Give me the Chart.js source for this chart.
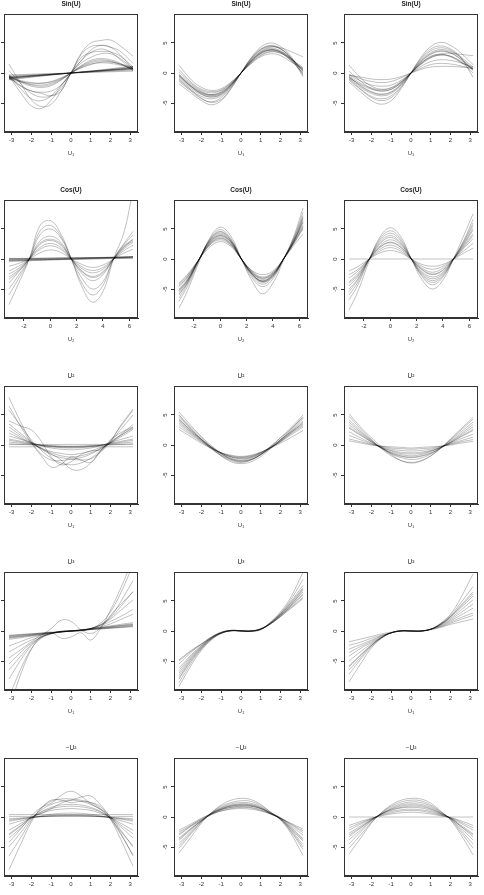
<!DOCTYPE html>
<html>
<head>
<meta charset="utf-8">
<script src="https://cdn.jsdelivr.net/npm/chart.js@4"></script>
<style>
  body { margin: 0; background: #fff; }
  #page { position: relative; width: 484px; height: 895px; overflow: hidden; }
  canvas { position: absolute; }
</style>
</head>
<body>
<div id="page"></div>
<script>
// x grids the curves were read at
const xU = [-3.14, -2.5, -2, -1.5, -1, -0.5, 0, 0.5, 1, 1.5, 2, 2.5, 3.14];
const xCos = [-3.14, -2.5, -1.6, -0.8, 0, 0.8, 1.6, 2.4, 3.2, 4, 4.8, 5.6, 6.28];

const xTicksU = [-3, -2, -1, 0, 1, 2, 3];
const xTicksCos = [-2, 0, 2, 4, 6];
const yTicks = [-5, 0, 5];

const panelTitles = ["Sin(U)", "Cos(U)", "U\u00B2", "U\u00B3", "\u2212U\u00B2"];
const axisLabels = ["U\u2081", "U\u2082", "U\u2081", "U\u2081", "U\u2081"];

// ---- Sin(U) ----
const sinLeft = [
  [-0.7,-0.55,-0.45,-0.34,-0.22,-0.11,0,0.11,0.22,0.34,0.45,0.55,0.7],
  [-0.9,-0.7,-0.56,-0.42,-0.28,-0.14,0,0.14,0.28,0.42,0.56,0.7,0.9],
  [-0.6,-0.5,-0.4,-0.3,-0.2,-0.1,0,0.1,0.2,0.3,0.4,0.5,0.6],
  [-0.8,-0.65,-0.5,-0.38,-0.25,-0.13,0,0.12,0.25,0.37,0.5,0.62,0.78],
  [-1.0,-0.8,-0.63,-0.47,-0.32,-0.16,0,0.16,0.32,0.47,0.63,0.8,1.0],
  [-0.3,-0.25,-0.2,-0.15,-0.1,-0.05,0,0.05,0.1,0.15,0.2,0.25,0.3],
  [-1.1,-0.9,-0.7,-0.52,-0.35,-0.18,0,0.18,0.35,0.52,0.7,0.9,1.1],
  [-0.75,-0.6,-0.48,-0.36,-0.24,-0.12,0,0.12,0.24,0.36,0.48,0.6,0.75],
  [-0.85,-0.68,-0.54,-0.4,-0.27,-0.13,0,0.13,0.27,0.4,0.54,0.68,0.85],
  [-0.5,-0.4,-0.32,-0.24,-0.16,-0.08,0,0.08,0.16,0.24,0.32,0.4,0.5],
  [-0.6,-1.4,-1.9,-2.0,-1.7,-1.0,0,1.0,1.7,2.0,1.9,1.4,0.6],
  [-0.9,-1.3,-1.6,-1.7,-1.5,-0.9,0,0.9,1.5,1.7,1.6,1.3,0.8],
  [-0.4,-1.6,-2.2,-2.4,-2.1,-1.2,0,1.2,2.1,2.4,2.2,1.6,0.4],
  [-1.1,-1.5,-1.7,-1.7,-1.4,-0.8,0,0.8,1.4,1.8,1.8,1.5,1.0],
  [-0.7,-1.5,-2.0,-2.2,-1.9,-1.1,0,1.1,1.9,2.2,2.0,1.5,0.7],
  [-0.3,-2.8,-4.3,-4.6,-3.8,-2.0,0,2.0,3.8,4.6,4.3,3.0,0.6],
  [1.5,-2.0,-4.5,-5.6,-5.2,-3.0,0,3.2,5.0,5.4,5.5,4.5,2.8],
  [-0.5,-3.5,-5.5,-5.9,-4.5,-2.2,0,2.0,3.4,4.0,3.5,2.2,0.4],
  [-0.8,-2.3,-3.0,-3.2,-3.0,-2.0,0,3.0,4.4,4.6,4.3,3.6,1.6],
  [0.4,-1.9,-3.4,-4.0,-3.8,-2.6,0,2.5,3.4,3.6,3.5,2.8,1.0],
  [-0.6,-2.2,-3.0,-3.4,-3.8,-3.0,0,1.6,2.6,3.2,3.2,2.4,0.7]
];
const sinMid = [
  [-0.4,-2.2,-3.2,-3.6,-3.1,-1.8,0,1.8,3.2,3.8,3.5,2.4,0.5],
  [0.2,-1.8,-2.9,-3.3,-2.9,-1.7,0,1.7,3.0,3.6,3.3,2.2,0.4],
  [-1.2,-2.9,-3.9,-4.3,-3.8,-2.2,0,2.2,3.8,4.4,4.0,2.7,0.2],
  [-0.8,-2.6,-3.6,-4.0,-3.5,-2.0,0,2.0,3.5,4.1,3.7,2.5,0.6],
  [1.3,-1.2,-2.4,-2.9,-2.6,-1.5,0,1.5,2.7,3.2,2.9,1.9,0.8],
  [-1.8,-3.4,-4.6,-5.3,-4.6,-2.6,0,2.5,4.3,5.0,4.4,2.9,-0.4],
  [-0.5,-2.3,-3.5,-4.0,-3.6,-2.1,0,2.1,3.6,4.3,4.2,3.6,2.7],
  [0.6,-1.6,-2.7,-3.1,-2.8,-1.6,0,1.6,2.9,3.5,3.3,2.4,0.9],
  [-1.0,-2.9,-4.2,-4.9,-4.4,-2.5,0,2.4,4.0,4.6,4.1,2.6,-0.2],
  [-0.2,-2.0,-3.1,-3.6,-3.2,-1.9,0,1.9,3.3,3.9,3.6,2.5,0.6],
  [-0.6,-2.4,-3.4,-3.8,-3.4,-2.0,0,1.9,3.3,3.8,3.4,2.1,0.0],
  [-1.4,-3.1,-4.3,-4.8,-4.1,-2.3,0,2.3,3.9,4.5,4.0,2.6,-0.6],
  [-0.3,-2.3,-3.3,-3.7,-3.3,-1.9,0,1.9,3.4,3.9,3.5,2.3,0.3]
];
const sinRight = [
  [-0.5,-1.8,-2.5,-2.8,-2.5,-1.5,0,1.5,2.6,3.0,2.8,2.0,0.6],
  [-0.2,-1.0,-1.4,-1.6,-1.4,-0.8,0,0.8,1.4,1.6,1.5,1.2,0.7],
  [-1.0,-2.8,-3.9,-4.3,-3.8,-2.2,0,2.2,3.7,4.2,3.8,2.6,0.5],
  [1.3,-1.0,-2.2,-2.7,-2.4,-1.4,0,1.4,2.5,3.0,2.7,1.8,0.8],
  [-1.5,-3.3,-4.6,-5.2,-4.6,-2.6,0,2.6,4.4,5.1,4.6,3.4,1.4],
  [-0.7,-2.2,-3.1,-3.5,-3.1,-1.8,0,1.8,3.1,3.6,3.3,2.3,0.4],
  [-0.3,-1.4,-2.0,-2.2,-2.0,-1.2,0,1.1,1.9,2.2,2.1,1.7,1.0],
  [-0.9,-2.5,-3.4,-3.8,-3.4,-2.0,0,2.0,3.4,3.9,3.6,2.7,1.0],
  [0.3,-1.5,-2.6,-3.0,-2.7,-1.6,0,1.6,2.8,3.2,3.3,3.1,2.9],
  [-0.8,-2.0,-2.7,-3.0,-2.7,-1.6,0,1.6,2.7,3.1,2.8,1.9,0.0],
  [-1.2,-2.9,-4.1,-4.6,-4.1,-2.4,0,2.4,4.0,4.5,4.0,2.7,-0.7],
  [-0.4,-0.7,-1.0,-1.1,-1.0,-0.6,0,0.6,1.0,1.1,1.1,1.0,0.8],
  [-0.6,-2.3,-3.2,-3.6,-3.2,-1.9,0,1.9,3.2,3.7,3.4,2.4,0.7]
];

// ---- Cos(U) ----
const cosLeft = [
  [-0.2,-0.18,-0.15,-0.12,-0.09,-0.06,-0.03,0,0.03,0.06,0.09,0.12,0.15],
  [0.1,0.1,0.12,0.14,0.16,0.18,0.2,0.22,0.24,0.26,0.28,0.3,0.32],
  [-0.4,-0.36,-0.3,-0.24,-0.18,-0.12,-0.06,0,0.06,0.12,0.18,0.24,0.3],
  [0.0,0.02,0.05,0.08,0.11,0.14,0.17,0.2,0.23,0.26,0.3,0.34,0.38],
  [-0.3,-0.28,-0.22,-0.16,-0.1,-0.04,0.02,0.08,0.14,0.2,0.26,0.32,0.4],
  [-0.1,-0.1,-0.08,-0.06,-0.04,-0.02,0,0.02,0.04,0.06,0.08,0.1,0.12],
  [-0.2,-0.17,-0.12,-0.07,-0.02,0.03,0.08,0.13,0.18,0.23,0.28,0.33,0.38],
  [0.05,0.06,0.08,0.1,0.12,0.14,0.16,0.18,0.2,0.22,0.24,0.26,0.28],
  [-2.0,-1.3,0,1.6,2.2,1.6,0,-1.3,-1.9,-1.4,0,1.4,2.3],
  [-3.0,-2.0,0,2.4,3.1,2.3,0,-2.0,-2.9,-2.1,0,2.0,3.0],
  [-5.0,-3.0,0,4.0,5.0,3.5,0,-3.2,-5.0,-3.8,0,2.4,4.0],
  [-7.6,-4.5,0,5.5,6.4,4.2,0,-4.6,-7.2,-5.4,0,4.5,11.5],
  [-1.2,-0.8,0,1.0,1.5,1.1,0,-0.9,-1.4,-1.0,0,1.0,1.6],
  [-4.0,-2.4,0,3.0,3.8,2.8,0,-2.4,-3.6,-2.6,0,1.9,3.4],
  [-6.0,-3.6,0,4.6,5.6,3.8,0,-4.0,-6.0,-4.4,0,2.6,4.6],
  [-2.5,-1.7,0,1.9,2.6,1.9,0,-1.6,-2.3,-1.7,0,1.7,2.8],
  [-3.4,-2.2,0,2.6,3.3,2.5,0,-2.1,-3.1,-2.3,0,2.2,3.2]
];
const cosMid = [
  [-5.0,-3.4,0,2.6,3.7,2.6,0,-2.2,-3.4,-2.5,0,3.0,6.0],
  [-4.2,-2.8,0,2.3,3.2,2.3,0,-2.0,-3.0,-2.2,0,2.6,5.0],
  [-6.5,-4.2,0,3.2,4.6,3.2,0,-2.8,-4.2,-3.0,0,3.5,7.2],
  [-5.5,-3.7,0,2.9,4.1,2.9,0,-2.5,-3.7,-2.7,0,3.2,6.4],
  [-4.0,-2.6,0,2.0,2.9,2.1,0,-1.9,-2.6,-2.0,0,2.3,4.2],
  [-8.2,-5.3,-0.4,3.5,5.3,3.8,0,-3.6,-5.8,-4.0,-0.2,3.9,8.5],
  [-4.6,-3.1,0,2.5,3.5,2.5,0,-2.3,-3.2,-2.3,0,2.7,5.4],
  [-5.8,-3.9,0,3.0,4.3,3.0,0,-2.6,-3.9,-2.8,0,3.3,6.9],
  [-6.0,-4.0,0,3.1,4.5,3.1,0,-2.5,-3.7,-2.6,0,3.0,5.6],
  [-4.4,-3.0,0,2.7,3.9,2.8,0,-2.4,-3.8,-2.9,0,2.8,5.2],
  [-5.2,-3.5,0,2.4,3.4,2.4,0,-2.1,-3.2,-2.4,0,2.9,6.8],
  [-7.0,-4.6,-0.2,3.3,4.9,3.4,0,-3.1,-4.6,-3.3,0,3.6,7.8],
  [-5.3,-3.6,0,2.8,3.9,2.8,0,-2.4,-3.6,-2.6,0,3.1,6.2]
];
const cosRight = [
  [0,0,0,0,0,0,0,0,0,0,0,0,0],
  [-4.0,-2.8,0,2.0,2.8,2.0,0,-1.8,-2.6,-1.9,0,2.2,4.2],
  [-2.0,-1.3,0,1.0,1.4,1.0,0,-0.9,-1.2,-0.9,0,1.0,1.8],
  [-6.0,-4.0,0,3.0,4.3,3.0,0,-2.7,-3.9,-2.8,0,3.0,6.0],
  [-8.5,-5.6,-0.3,3.6,5.2,3.7,0,-3.4,-5.0,-3.5,0,4.0,7.5],
  [-3.2,-2.1,0,1.6,2.3,1.6,0,-1.5,-2.2,-1.5,0,1.8,3.4],
  [-5.0,-3.4,0,2.5,3.6,2.5,0,-2.3,-3.3,-2.4,0,2.6,5.1],
  [-4.5,-3.0,0,2.2,3.2,2.3,0,-2.1,-3.0,-2.2,0,2.4,4.8],
  [-6.8,-4.5,0,3.3,4.7,3.3,0,-2.9,-4.3,-3.0,0,3.2,6.6],
  [-2.6,-1.8,0,1.3,1.9,1.3,0,-1.2,-1.7,-1.2,0,1.4,2.6],
  [-5.4,-3.6,0,2.7,3.9,2.7,0,-2.5,-3.6,-2.6,0,2.8,5.6],
  [-3.8,-2.5,0,1.9,2.7,1.9,0,-1.7,-2.5,-1.8,0,2.0,3.9]
];

// ---- U^2 ----
const sqLeft = [
  [0.5,0.3,0.15,0,-0.1,-0.2,-0.25,-0.2,-0.1,0,0.15,0.3,0.5],
  [-0.3,-0.3,-0.3,-0.3,-0.3,-0.3,-0.3,-0.3,-0.3,-0.3,-0.3,-0.3,-0.3],
  [0.2,0.1,0.0,-0.1,-0.15,-0.2,-0.2,-0.2,-0.15,-0.1,0,0.1,0.2],
  [1.0,0.6,0.3,-0.05,-0.3,-0.45,-0.5,-0.45,-0.3,-0.05,0.3,0.6,1.0],
  [1.5,0.9,0.4,-0.1,-0.5,-0.7,-0.8,-0.7,-0.5,-0.1,0.4,0.9,1.5],
  [0.1,0.1,0.1,0.1,0.1,0.1,0.1,0.1,0.1,0.1,0.1,0.1,0.1],
  [0.8,0.45,0.2,-0.05,-0.2,-0.35,-0.4,-0.35,-0.2,-0.05,0.2,0.45,0.8],
  [2.5,1.2,0.3,-0.5,-1.1,-1.4,-1.6,-1.4,-1.0,-0.4,0.3,1.3,2.6],
  [3.5,1.8,0.5,-0.7,-1.6,-2.1,-2.3,-2.1,-1.5,-0.6,0.4,1.7,3.4],
  [5.8,3.0,0.8,-0.9,-2.2,-3.0,-3.3,-3.0,-2.2,-0.9,0.8,3.0,5.8],
  [7.9,3.5,0.5,-1.5,-2.5,-2.6,-2.4,-2.5,-2.3,-1.2,0.5,2.5,5.0],
  [4.0,3.1,2.5,0.6,-2.0,-3.3,-2.8,-1.6,-1.0,-0.8,0.6,3.2,6.0],
  [6.5,2.8,0.3,-1.8,-3.7,-3.2,-2.0,-2.5,-2.9,-1.0,0.8,2.0,3.0],
  [2.0,1.0,0.2,-0.6,-1.5,-2.5,-4.0,-4.1,-3.0,-1.0,0.5,1.6,2.8],
  [3.0,1.5,0.4,-0.6,-1.3,-1.8,-2.0,-1.8,-1.3,-0.6,0.4,1.5,3.0]
];
const sqMid = [
  [4.0,2.1,0.8,-0.4,-1.3,-1.9,-2.1,-1.9,-1.3,-0.4,0.6,1.9,3.8],
  [5.5,3.1,1.4,-0.1,-1.4,-2.4,-2.8,-2.5,-1.6,-0.3,1.2,2.8,5.0],
  [2.6,1.3,0.3,-0.6,-1.3,-1.7,-1.9,-1.7,-1.2,-0.5,0.3,1.2,2.4],
  [4.6,2.5,1.0,-0.3,-1.5,-2.3,-2.6,-2.4,-1.6,-0.5,0.8,2.3,4.4],
  [3.4,1.8,0.6,-0.5,-1.4,-2.0,-2.3,-2.1,-1.4,-0.5,0.6,1.8,3.2],
  [5.0,2.8,1.2,-0.4,-1.8,-2.8,-3.1,-2.8,-1.9,-0.6,0.9,2.5,4.6],
  [3.0,1.6,0.5,-0.5,-1.3,-1.8,-2.0,-1.8,-1.2,-0.4,0.5,1.6,3.0],
  [4.3,2.3,0.9,-0.3,-1.3,-2.0,-2.2,-2.0,-1.3,-0.3,0.9,2.2,4.0],
  [3.7,2.0,0.7,-0.6,-1.7,-2.4,-2.7,-2.4,-1.6,-0.5,0.7,2.0,3.4],
  [4.9,2.6,0.9,-0.6,-1.8,-2.6,-2.9,-2.5,-1.6,-0.2,1.2,2.6,4.7],
  [4.2,2.3,0.9,-0.4,-1.5,-2.2,-2.5,-2.2,-1.5,-0.4,0.8,2.1,3.6]
];
const sqRight = [
  [5.2,2.8,1.2,-0.3,-1.6,-2.6,-3.0,-2.7,-1.8,-0.5,1.0,2.6,4.6],
  [1.0,0.5,0.1,-0.2,-0.5,-0.6,-0.7,-0.6,-0.5,-0.2,0.1,0.5,0.9],
  [3.4,1.8,0.6,-0.5,-1.3,-1.8,-2.0,-1.8,-1.3,-0.5,0.5,1.6,3.0],
  [2.2,1.1,0.3,-0.4,-0.9,-1.2,-1.3,-1.2,-0.9,-0.4,0.3,1.0,1.8],
  [4.2,2.2,0.8,-0.5,-1.5,-2.1,-2.4,-2.2,-1.5,-0.5,0.8,2.1,3.8],
  [1.6,0.8,0.2,-0.3,-0.7,-0.9,-1.0,-0.9,-0.7,-0.3,0.2,0.7,1.3],
  [2.8,1.5,0.5,-0.5,-1.2,-1.6,-1.8,-1.6,-1.1,-0.4,0.4,1.4,2.6],
  [4.8,2.5,0.9,-0.6,-1.8,-2.6,-2.9,-2.6,-1.8,-0.6,0.9,2.4,4.3],
  [3.0,1.6,0.5,-0.4,-1.0,-1.4,-1.5,-1.4,-1.0,-0.4,0.4,1.3,2.4],
  [0.7,0.3,0,-0.2,-0.3,-0.4,-0.5,-0.4,-0.3,-0.2,0,0.3,0.6],
  [3.8,2.0,0.7,-0.5,-1.4,-1.9,-2.1,-1.9,-1.4,-0.5,0.6,1.8,3.4]
];

// ---- U^3 ----
const cubeLeft = [
  [-0.9,-0.7,-0.55,-0.4,-0.28,-0.14,0,0.14,0.28,0.42,0.56,0.7,0.9],
  [-1.2,-0.95,-0.75,-0.55,-0.37,-0.18,0,0.18,0.37,0.55,0.75,0.95,1.2],
  [-0.7,-0.55,-0.45,-0.33,-0.22,-0.11,0,0.11,0.22,0.33,0.45,0.55,0.7],
  [-1.0,-0.8,-0.63,-0.47,-0.31,-0.16,0,0.16,0.31,0.47,0.63,0.8,1.0],
  [-1.4,-1.1,-0.85,-0.62,-0.41,-0.2,0,0.2,0.41,0.62,0.85,1.1,1.4],
  [-1.1,-0.88,-0.7,-0.5,-0.34,-0.17,0,0.17,0.34,0.5,0.7,0.88,1.1],
  [-0.8,-0.62,-0.5,-0.36,-0.25,-0.12,0,0.12,0.25,0.36,0.5,0.62,0.8],
  [-3.5,-2.3,-1.5,-0.9,-0.4,-0.1,0,0.1,0.4,0.9,1.6,2.4,3.6],
  [-5.5,-3.4,-2.0,-1.0,-0.4,-0.1,0,0.1,0.4,1.0,2.0,3.4,5.2],
  [-8.0,-4.6,-2.4,-1.1,-0.4,-0.1,0,0.1,0.4,1.1,2.4,4.8,8.4],
  [-11,-6.0,-2.9,-1.2,-0.5,0,0,0,0.4,1.3,3.2,6.2,11],
  [-13,-6.8,-3.0,-0.8,0.4,1.8,1.6,0.2,-0.4,0.6,3.5,7.0,12],
  [-4.5,-3.0,-1.8,-0.6,-0.2,-1.2,-1.0,-0.3,-1.5,0.4,2.6,4.4,6.5],
  [-2.5,-1.7,-1.1,-0.7,-0.3,-0.1,0,0.1,0.3,0.7,1.2,1.9,2.8],
  [-6.5,-4.0,-2.2,-1.0,-0.4,-0.1,0,0.1,0.4,1.0,2.2,4.0,6.6]
];
const cubeMid = [
  [-7.0,-4.3,-2.6,-1.2,-0.3,0.05,0.0,-0.05,0.3,1.3,2.7,4.3,6.5],
  [-5.5,-3.5,-2.2,-1.0,-0.2,0.1,0.05,0.0,0.3,1.2,2.4,3.8,5.6],
  [-9.2,-5.6,-3.2,-1.5,-0.4,0.05,0.0,-0.05,0.3,1.5,3.2,5.5,9.8],
  [-8.0,-4.9,-2.9,-1.3,-0.3,0.1,0.0,-0.05,0.3,1.4,2.9,4.8,7.6],
  [-6.2,-3.9,-2.4,-1.1,-0.3,0.05,0.0,0.0,0.3,1.3,2.6,4.0,6.0],
  [-4.8,-3.2,-2.1,-1.0,-0.3,0.05,0.05,0.05,0.3,1.2,2.5,4.2,6.8],
  [-8.6,-5.2,-3.0,-1.4,-0.4,0.05,0.0,-0.05,0.2,1.4,3.0,5.1,8.6],
  [-7.4,-4.5,-2.7,-1.2,-0.3,0.1,0.05,0.0,0.4,1.4,2.8,4.5,7.0],
  [-6.6,-4.1,-2.5,-1.1,-0.2,0.1,0.05,0.0,0.3,1.2,2.6,4.1,6.2],
  [-5.0,-3.3,-2.2,-1.2,-0.4,0.0,0.0,0.0,0.4,1.2,2.4,3.7,5.4],
  [-7.8,-4.7,-2.8,-1.3,-0.3,0.05,0.0,0.0,0.3,1.3,2.8,4.6,7.2]
];
const cubeRight = [
  [-1.8,-1.3,-0.9,-0.5,-0.2,0,0,0,0.2,0.6,1.1,1.5,2.0],
  [-3.0,-2.2,-1.5,-0.8,-0.3,0,0,0,0.3,0.8,1.5,2.2,3.0],
  [-5.0,-3.3,-2.1,-1.1,-0.3,0.05,0,-0.05,0.3,1.1,2.1,3.4,5.2],
  [-6.5,-4.2,-2.4,-1.1,-0.3,0.05,0,0,0.3,1.2,2.4,4.2,6.5],
  [-8.5,-5.2,-2.8,-1.2,-0.3,0.05,0,0,0.3,1.3,2.8,5.4,9.5],
  [-4.2,-2.8,-1.9,-1.0,-0.3,0,0,0,0.3,1.0,1.9,3.0,4.5],
  [-7.2,-4.5,-2.6,-1.2,-0.3,0.05,0,0,0.3,1.2,2.6,4.6,7.4],
  [-2.4,-1.8,-1.2,-0.7,-0.3,0,0,0,0.3,0.7,1.3,1.9,2.6],
  [-5.8,-3.8,-2.3,-1.1,-0.3,0,0,0,0.3,1.1,2.3,3.8,5.8],
  [-3.6,-2.5,-1.7,-0.9,-0.3,0,0,0,0.3,0.9,1.7,2.6,3.8],
  [-6.0,-3.9,-2.4,-1.1,-0.3,0,0,0,0.3,1.1,2.4,4.0,6.2]
];

// ---- -U^2 ----
const negLeft = [
  [-0.3,-0.15,-0.05,0.05,0.12,0.16,0.18,0.16,0.12,0.05,-0.05,-0.15,-0.3],
  [-0.7,-0.35,-0.1,0.1,0.25,0.33,0.36,0.33,0.25,0.1,-0.1,-0.35,-0.7],
  [0.1,0.1,0.1,0.1,0.1,0.1,0.1,0.1,0.1,0.1,0.1,0.1,0.1],
  [-1.2,-0.6,-0.2,0.2,0.45,0.6,0.65,0.6,0.45,0.2,-0.2,-0.6,-1.2],
  [0.4,0.4,0.4,0.4,0.4,0.4,0.4,0.4,0.4,0.4,0.4,0.4,0.4],
  [-0.5,-0.25,-0.08,0.08,0.18,0.24,0.26,0.24,0.18,0.08,-0.08,-0.25,-0.5],
  [-2.2,-1.0,-0.1,0.6,1.1,1.3,1.4,1.3,1.1,0.6,-0.1,-1.0,-2.2],
  [-3.5,-1.7,-0.2,0.9,1.6,2.0,2.1,2.0,1.6,0.9,-0.2,-1.6,-3.5],
  [-5.0,-2.4,-0.3,1.2,2.1,2.6,2.8,2.6,2.1,1.2,-0.3,-2.3,-4.8],
  [-8.8,-4.2,-0.8,1.5,2.6,3.0,3.0,2.8,2.4,1.4,-0.4,-3.6,-8.2],
  [-6.5,-3.2,-0.5,1.5,2.8,2.8,2.4,2.6,2.4,1.7,-0.3,-2.8,-6.3],
  [-4.2,-1.8,0.2,1.6,2.3,3.6,4.3,3.5,2.2,1.3,0.1,-2.1,-5.0],
  [-3.0,-1.4,0.0,0.6,1.4,2.3,2.8,3.3,3.5,2.0,-0.1,-2.6,-6.5],
  [-2.8,-1.3,-0.1,0.8,1.4,1.7,1.8,1.7,1.4,0.8,-0.1,-1.3,-2.8]
];
const negMid = [
  [-3.5,-1.8,-0.6,0.5,1.3,1.8,2.0,1.9,1.4,0.6,-0.2,-1.6,-3.6],
  [-2.2,-1.1,-0.2,0.5,1.0,1.3,1.4,1.3,1.0,0.5,-0.2,-1.0,-2.0],
  [-6.0,-3.2,-1.0,0.7,2.0,2.8,3.1,2.9,2.1,0.8,-0.5,-2.6,-6.4],
  [-4.4,-2.3,-0.7,0.6,1.6,2.2,2.4,2.3,1.7,0.7,-0.3,-2.0,-4.6],
  [-2.8,-1.4,-0.4,0.4,1.0,1.4,1.6,1.5,1.1,0.5,-0.2,-1.2,-2.6],
  [-5.2,-2.7,-0.8,0.7,1.8,2.4,2.7,2.6,1.9,0.8,-0.4,-2.3,-5.4],
  [-3.0,-1.5,-0.5,0.6,1.4,1.9,2.1,2.0,1.5,0.6,-0.3,-1.9,-4.0],
  [-3.9,-2.0,-0.6,0.4,1.2,1.6,1.8,1.8,1.4,0.7,-0.1,-1.4,-3.0],
  [-4.8,-2.5,-0.8,0.6,1.5,2.0,2.2,2.1,1.6,0.6,-0.4,-2.2,-5.0],
  [-2.5,-1.3,-0.3,0.6,1.2,1.6,1.7,1.6,1.2,0.5,-0.2,-1.1,-2.3],
  [-3.7,-1.9,-0.6,0.5,1.3,1.8,1.9,1.8,1.4,0.6,-0.3,-1.7,-3.8]
];
const negRight = [
  [0,0,0,0,0,0,0,0,0,0,0,0,0],
  [-1.4,-0.7,-0.2,0.2,0.5,0.7,0.8,0.7,0.5,0.2,-0.1,-0.6,-1.4],
  [-3.0,-1.6,-0.5,0.5,1.3,1.8,2.0,1.9,1.4,0.6,-0.2,-1.5,-3.0],
  [-6.2,-3.3,-1.0,0.7,2.0,2.8,3.1,3.0,2.3,1.0,-0.5,-2.8,-6.3],
  [-4.5,-2.3,-0.7,0.6,1.6,2.2,2.5,2.4,1.8,0.8,-0.3,-2.1,-4.5],
  [-2.2,-1.1,-0.3,0.4,0.9,1.2,1.3,1.2,0.9,0.4,-0.2,-1.0,-2.2],
  [-3.8,-2.0,-0.6,0.5,1.4,2.0,2.2,2.1,1.6,0.7,-0.3,-1.8,-3.8],
  [-5.2,-2.8,-0.9,0.7,1.8,2.5,2.8,2.7,2.0,0.9,-0.4,-2.4,-5.2],
  [-1.8,-0.9,-0.3,0.3,0.7,1.0,1.1,1.0,0.7,0.3,-0.1,-0.8,-1.8],
  [-3.3,-1.7,-0.5,0.5,1.2,1.6,1.8,1.7,1.3,0.6,-0.2,-1.5,-3.3],
  [-2.7,-1.4,-0.4,0.5,1.1,1.5,1.6,1.5,1.1,0.5,-0.2,-1.3,-2.8]
];

const rows = [
  { xs: xU, xTicks: xTicksU, xMin: -3.393, xMax: 3.393, panels: [sinLeft, sinMid, sinRight] },
  { xs: xCos, xTicks: xTicksCos, xMin: -3.519, xMax: 6.660, panels: [cosLeft, cosMid, cosRight] },
  { xs: xU, xTicks: xTicksU, xMin: -3.393, xMax: 3.393, panels: [sqLeft, sqMid, sqRight] },
  { xs: xU, xTicks: xTicksU, xMin: -3.393, xMax: 3.393, panels: [cubeLeft, cubeMid, cubeRight] },
  { xs: xU, xTicks: xTicksU, xMin: -3.393, xMax: 3.393, panels: [negLeft, negMid, negRight] }
];

// layout of the plot boxes on the page
const colLefts = [4, 174, 344];
const rowTops = [14, 200, 386, 572, 758];
const BW = 134, BH = 118;
const ML = 32, MR = 6, MT = 15, MB = 25;
const FONT = "'Liberation Sans', Arial, sans-serif";
const INK = "#333";

// draws the full frame round the plot area
const boxPlugin = {
  id: "box",
  afterDraw(chart) {
    const a = chart.chartArea;
    const c = chart.ctx;
    c.save();
    c.strokeStyle = INK;
    c.lineWidth = 1;
    c.strokeRect(Math.round(a.left) + 0.5, Math.round(a.top) + 0.5, Math.round(a.right - a.left) - 1, Math.round(a.bottom - a.top) - 1);
    c.restore();
  }
};

const page = document.getElementById("page");

rows.forEach(function (row, r) {
  row.panels.forEach(function (curves, col) {
    let canvas = document.createElement("canvas");
    canvas.width = ML + BW + MR;
    canvas.height = MT + BH + MB;
    canvas.style.left = (colLefts[col] - ML) + "px";
    canvas.style.top = (rowTops[r] - MT) + "px";
    page.appendChild(canvas);

    let datasets = curves.map(function (ys) {
      return {
        data: ys.map(function (y, i) { return { x: row.xs[i], y: y }; }),
        borderColor: "rgba(0,0,0,0.28)",
        borderWidth: 0.9,
        pointRadius: 0,
        tension: 0.4,
        fill: false
      };
    });

    new Chart(canvas, {
      type: "line",
      data: { datasets: datasets },
      options: {
        responsive: false,
        animation: false,
        devicePixelRatio: 1,
        layout: { padding: { left: 0, right: MR, top: 0, bottom: 0 } },
        plugins: {
          legend: { display: false },
          tooltip: { enabled: false },
          title: {
            display: true,
            text: panelTitles[r],
            fullSize: false,
            color: "#222",
            font: { family: FONT, size: 6.5, weight: r < 2 ? "bold" : "normal", lineHeight: 1.2 },
            padding: { top: 1, bottom: 6.2 }
          }
        },
        scales: {
          x: {
            type: "linear",
            min: row.xMin,
            max: row.xMax,
            afterBuildTicks: function (scale) { scale.ticks = row.xTicks.map(function (v) { return { value: v }; }); },
            afterFit: function (scale) { scale.height = MB; },
            grid: { drawOnChartArea: false, drawTicks: true, tickLength: 3, color: INK },
            border: { color: INK },
            ticks: { color: INK, padding: 2, maxRotation: 0, font: { family: FONT, size: 6 }, callback: function (v) { return String(v); } },
            title: { display: true, text: axisLabels[r], color: INK, font: { family: FONT, size: 6, lineHeight: 1.2 }, padding: { top: 0, bottom: 0 } }
          },
          y: {
            type: "linear",
            min: -9.83,
            max: 9.83,
            afterBuildTicks: function (scale) { scale.ticks = yTicks.map(function (v) { return { value: v }; }); },
            afterFit: function (scale) { scale.width = ML; },
            grid: { drawOnChartArea: false, drawTicks: true, tickLength: 3, color: INK },
            border: { color: INK },
            ticks: { color: INK, padding: 3, minRotation: 90, maxRotation: 90, crossAlign: "center", font: { family: FONT, size: 6 }, callback: function (v) { return String(v); } }
          }
        }
      },
      plugins: [boxPlugin]
    });
  });
});
</script>
</body>
</html>
